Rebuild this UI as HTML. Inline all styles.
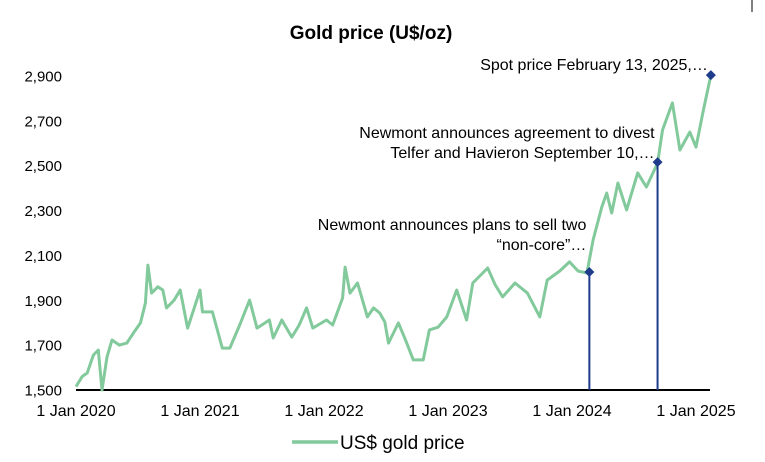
<!DOCTYPE html>
<html><head><meta charset="utf-8"><style>
html,body{margin:0;padding:0;background:#fff;}
svg{display:block;font-family:"Liberation Sans",Arial,sans-serif;}
</style></head><body>
<svg id="chart" width="765" height="462">
<text x="371" y="39" text-anchor="middle" font-size="19" font-weight="bold" fill="#000">Gold price (U$/oz)</text>
<line x1="752" y1="0" x2="752" y2="12" stroke="#000" stroke-width="1"/>
<g id="yaxis"></g>
<g id="xaxis"></g>
<g id="series"></g>
<g id="events"></g>
<g>
<line x1="292" y1="442" x2="338" y2="442" stroke="#82c99b" stroke-width="3.5"/>
<text x="340" y="449" font-size="19" fill="#000">US$ gold price</text>
</g>
</svg>
<script>
const yTicks=[1500,1700,1900,2100,2300,2500,2700,2900];
const yTickLabels=["1,500","1,700","1,900","2,100","2,300","2,500","2,700","2,900"];
const xTicks=[2020,2021,2022,2023,2024,2025];
const xTickLabels=["1 Jan 2020","1 Jan 2021","1 Jan 2022","1 Jan 2023","1 Jan 2024","1 Jan 2025"];
const dates=[2020.00,2020.05,2020.09,2020.14,2020.18,2020.21,2020.25,2020.29,2020.35,2020.41,2020.47,2020.52,2020.56,2020.58,2020.61,2020.66,2020.70,2020.73,2020.79,2020.84,2020.90,2020.95,2021.00,2021.02,2021.10,2021.18,2021.24,2021.32,2021.40,2021.46,2021.56,2021.59,2021.66,2021.74,2021.80,2021.86,2021.91,2022.02,2022.07,2022.15,2022.17,2022.21,2022.27,2022.35,2022.40,2022.45,2022.49,2022.52,2022.60,2022.66,2022.72,2022.80,2022.85,2022.92,2022.99,2023.07,2023.15,2023.20,2023.32,2023.38,2023.44,2023.54,2023.64,2023.74,2023.80,2023.90,2023.98,2024.05,2024.12,2024.17,2024.24,2024.28,2024.32,2024.37,2024.44,2024.53,2024.60,2024.69,2024.73,2024.81,2024.87,2024.95,2025.00,2025.06,2025.12];
const prices=[1515,1560,1576,1656,1678,1500,1647,1723,1700,1709,1760,1799,1888,2057,1932,1960,1946,1866,1900,1946,1776,1860,1946,1848,1848,1687,1687,1790,1901,1776,1812,1732,1812,1736,1790,1866,1776,1812,1790,1910,2048,1932,1977,1826,1866,1843,1803,1709,1799,1720,1634,1634,1768,1780,1826,1946,1812,1977,2044,1970,1915,1977,1932,1826,1990,2030,2071,2030,2022,2169,2316,2378,2289,2423,2303,2468,2405,2512,2659,2780,2570,2650,2583,2748,2904];
const eventDates=[2024.14,2024.69,2025.12];
const eventValues=[2026,2516,2904];
const eventLabels=[["Newmont announces plans to sell two","\u201cnon-core\u201d\u2026"],["Newmont announces agreement to divest","Telfer and Havieron September 10,\u2026"],["Spot price February 13, 2025,\u2026"]];
const labelLift=[22,4,5];

const NS="http://www.w3.org/2000/svg";
const X0=76,PXY=124,YB=390,YPX=314/1400;
function xs(t){return X0+(t-2020)*PXY;}
function ys(v){return YB-(v-1500)*YPX;}
function mk(tag,attrs,parent){const e=document.createElementNS(NS,tag);for(const k in attrs)e.setAttribute(k,attrs[k]);parent.appendChild(e);return e;}

const ya=document.getElementById('yaxis');
yTicks.forEach((v,i)=>{
  const t=mk('text',{x:62,y:ys(v)+5.5,'text-anchor':'end','font-size':15,fill:'#000'},ya);
  t.textContent=yTickLabels[i];
  
  
});
const xa=document.getElementById('xaxis');
xTicks.forEach((v,i)=>{
  const t=mk('text',{x:xs(v),y:416,'text-anchor':'middle','font-size':16,fill:'#000'},xa);
  t.textContent=xTickLabels[i];
  
  
});

const sg=document.getElementById('series');
let d='';
dates.forEach((t,i)=>{d+=(i?'L':'M')+xs(t).toFixed(1)+' '+ys(prices[i]).toFixed(1);});
const p=mk('path',{d:d,fill:'none',stroke:'#82c99b','stroke-width':3,'stroke-linejoin':'round'},sg);



const axl=mk('line',{x1:X0,y1:YB,x2:710,y2:YB,stroke:'#000','stroke-width':2},xa);



const eg=document.getElementById('events');
eventDates.forEach((t,i)=>{
  const x=xs(t),y=ys(eventValues[i]);
  if(i<2){
    const l=mk('line',{x1:x,y1:y,x2:x,y2:YB,stroke:'#1f3b8c','stroke-width':2},eg);
    
    
  }
  const dm=mk('polygon',{points:`${x},${y-5} ${x+5},${y} ${x},${y+5} ${x-5},${y}`,fill:'#1f3b8c'},eg);
  
  
  const lines=eventLabels[i];
  lines.forEach((s,j)=>{
    const ty=y-labelLift[i]-(lines.length-1-j)*20;
    const tx=mk('text',{x:x-3,y:ty,'text-anchor':'end','font-size':16,fill:'#000'},eg);
    tx.textContent=s;
    
    
  });
});
</script>
</body></html>
